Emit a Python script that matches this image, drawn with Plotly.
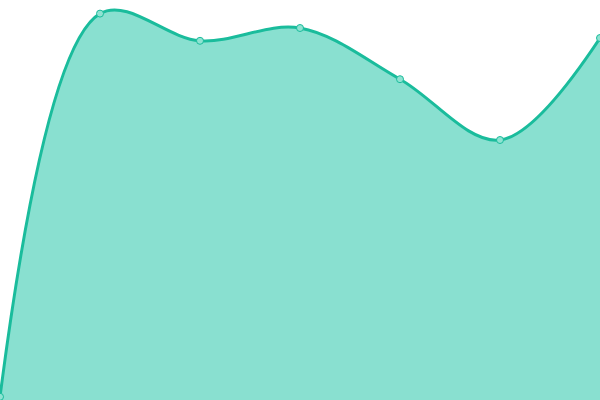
import plotly.graph_objects as go

# Data points
x_vals = [0, 1, 2, 3, 4, 5, 6]
y_vals = [0.8, 96.6, 89.8, 93, 80.2, 65, 90.5]

line_color = '#1abc9c'
fill_color = '#89e0d0'

fig = go.Figure()

fig.add_trace(go.Scatter(
    x=x_vals,
    y=y_vals,
    mode='lines+markers',
    line=dict(color=line_color, width=3, shape='spline', smoothing=1),
    marker=dict(size=7, color='#8fe3d2', line=dict(color=line_color, width=1)),
    fill='tozeroy',
    fillcolor=fill_color,
    cliponaxis=False,
    hoverinfo='skip'))

fig.update_layout(
    width=600, height=400,
    margin=dict(l=0, r=0, t=0, b=0),
    paper_bgcolor='white', plot_bgcolor='white',
    showlegend=False,
    xaxis=dict(range=[0, 6], visible=False, fixedrange=True),
    yaxis=dict(range=[0, 100], visible=False, fixedrange=True))

# drop the default body margin so the chart fills the window
fig.write_html("out.html", config={'displayModeBar': False},
               post_script="document.body.style.margin='0';")
